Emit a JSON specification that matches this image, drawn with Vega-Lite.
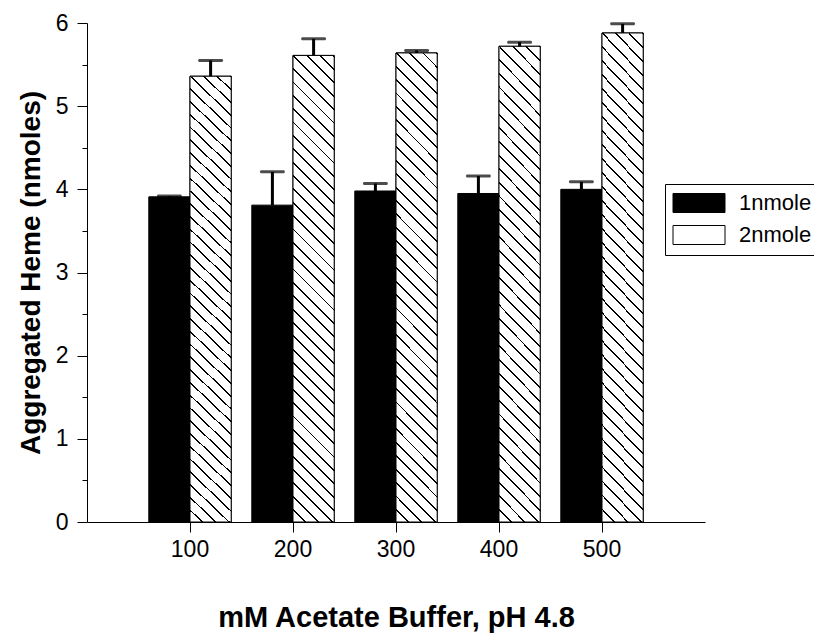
{
  "$schema": "https://vega.github.io/schema/vega-lite/v6.json",
  "width": 618,
  "height": 499,
  "autosize": {"type": "none"},
  "padding": {"left": 87, "top": 23, "right": 109, "bottom": 115},
  "background": "white",
  "config": {
    "font": "Liberation Sans",
    "view": {"stroke": null},
    "axis": {
      "grid": false,
      "domainColor": "black",
      "domainWidth": 1,
      "tickColor": "black",
      "tickWidth": 1,
      "labelColor": "black",
      "titleColor": "black",
      "labelFont": "Liberation Sans",
      "titleFont": "Liberation Sans",
      "labelFontSize": 23,
      "titleFontSize": 28,
      "titleFontWeight": "bold"
    }
  },
  "data": {
    "values": [
      {"buffer": "100", "series": "1nmole", "value": 3.91, "hi": 3.92},
      {"buffer": "200", "series": "1nmole", "value": 3.81, "hi": 4.21},
      {"buffer": "300", "series": "1nmole", "value": 3.98, "hi": 4.07},
      {"buffer": "400", "series": "1nmole", "value": 3.95, "hi": 4.16},
      {"buffer": "500", "series": "1nmole", "value": 4.0, "hi": 4.09},
      {"buffer": "100", "series": "2nmole", "value": 5.36, "hi": 5.55},
      {"buffer": "200", "series": "2nmole", "value": 5.61, "hi": 5.81},
      {"buffer": "300", "series": "2nmole", "value": 5.64, "hi": 5.67},
      {"buffer": "400", "series": "2nmole", "value": 5.72, "hi": 5.77},
      {"buffer": "500", "series": "2nmole", "value": 5.88, "hi": 5.99}
    ]
  },
  "encoding": {
    "x": {
      "field": "buffer",
      "type": "ordinal",
      "sort": ["100", "200", "300", "400", "500"],
      "scale": {"paddingInner": 0.2, "paddingOuter": 0.6},
      "axis": {
        "title": "mM Acetate Buffer, pH 4.8",
        "titleFontSize": 29,
        "labelAngle": 0,
        "tickSize": 10,
        "labelPadding": 6,
        "titlePadding": 42
      }
    },
    "xOffset": {"field": "series", "type": "nominal", "sort": ["1nmole", "2nmole"]},
    "y": {
      "field": "value",
      "type": "quantitative",
      "scale": {"domain": [0, 6], "nice": false},
      "axis": {
        "title": "Aggregated Heme (nmoles)",
        "values": [0, 0.5, 1, 1.5, 2, 2.5, 3, 3.5, 4, 4.5, 5, 5.5, 6],
        "labelExpr": "datum.value % 1 === 0 ? format(datum.value, 'd') : ''",
        "tickSize": {"condition": {"test": "datum.value % 1 === 0", "value": 10}, "value": 5},
        "labelPadding": 9,
        "titlePadding": 10
      }
    }
  },
  "layer": [
    {
      "mark": {"type": "bar", "stroke": "black", "strokeWidth": 1},
      "encoding": {
        "fill": {
          "field": "series",
          "type": "nominal",
          "scale": {"domain": ["1nmole", "2nmole"], "range": ["black", "white"]},
          "legend": {
            "orient": "none",
            "legendX": 578,
            "legendY": 161,
            "title": null,
            "strokeColor": "black",
            "fillColor": "white",
            "padding": 8,
            "symbolType": "M-2.6,-0.95H2.6V0.95H-2.6Z",
            "symbolSize": 400,
            "symbolStrokeColor": "black",
            "symbolStrokeWidth": 1,
            "labelFont": "Liberation Sans",
            "labelFontSize": 22,
            "labelColor": "black",
            "labelOffset": 44,
            "rowPadding": 8,
            "encode": {
              "symbols": {
                "update": {
                  "x": {"value": 26},
                  "stroke": {"value": "black"},
                  "strokeWidth": {"value": 1},
                  "fill": {
                    "condition": {
                      "test": "datum.value === '2nmole'",
                      "value": {
                        "gradient": "linear",
                        "x1": 0, "y1": 1, "x2": 1.2046, "y2": 0.5599,
                        "stops": [
                          {"offset": 0.10, "color": "white"}, {"offset": 0.10, "color": "black"}, {"offset": 0.125, "color": "black"}, {"offset": 0.125, "color": "white"},
                          {"offset": 0.225, "color": "white"}, {"offset": 0.225, "color": "black"}, {"offset": 0.25, "color": "black"}, {"offset": 0.25, "color": "white"},
                          {"offset": 0.35, "color": "white"}, {"offset": 0.35, "color": "black"}, {"offset": 0.375, "color": "black"}, {"offset": 0.375, "color": "white"},
                          {"offset": 0.475, "color": "white"}, {"offset": 0.475, "color": "black"}, {"offset": 0.5, "color": "black"}, {"offset": 0.5, "color": "white"},
                          {"offset": 0.6, "color": "white"}, {"offset": 0.6, "color": "black"}, {"offset": 0.625, "color": "black"}, {"offset": 0.625, "color": "white"},
                          {"offset": 0.725, "color": "white"}, {"offset": 0.725, "color": "black"}, {"offset": 0.75, "color": "black"}, {"offset": 0.75, "color": "white"},
                          {"offset": 0.85, "color": "white"}, {"offset": 0.85, "color": "black"}, {"offset": 0.875, "color": "black"}, {"offset": 0.875, "color": "white"},
                          {"offset": 0.975, "color": "white"}, {"offset": 0.975, "color": "black"}, {"offset": 1.0, "color": "black"}
                        ]
                      }
                    },
                    "value": "black"
                  }
                }
              }
            }
          }
        }
      }
    },
    {
      "transform": [{"filter": "datum.series === '2nmole'"}],
      "mark": {
        "type": "bar",
        "stroke": "black",
        "strokeWidth": 1,
        "fill": {
          "gradient": "linear",
          "x1": 0, "y1": 1, "x2": 0.0954, "y2": -0.08,
          "stops": [
            {"offset": 0.0226, "color": "white"}, {"offset": 0.0226, "color": "black"}, {"offset": 0.0263, "color": "black"}, {"offset": 0.0263, "color": "white"},
            {"offset": 0.0490, "color": "white"}, {"offset": 0.0490, "color": "black"}, {"offset": 0.0526, "color": "black"}, {"offset": 0.0526, "color": "white"},
            {"offset": 0.0753, "color": "white"}, {"offset": 0.0753, "color": "black"}, {"offset": 0.0789, "color": "black"}, {"offset": 0.0789, "color": "white"},
            {"offset": 0.1016, "color": "white"}, {"offset": 0.1016, "color": "black"}, {"offset": 0.1053, "color": "black"}, {"offset": 0.1053, "color": "white"},
            {"offset": 0.1279, "color": "white"}, {"offset": 0.1279, "color": "black"}, {"offset": 0.1316, "color": "black"}, {"offset": 0.1316, "color": "white"},
            {"offset": 0.1542, "color": "white"}, {"offset": 0.1542, "color": "black"}, {"offset": 0.1579, "color": "black"}, {"offset": 0.1579, "color": "white"},
            {"offset": 0.1805, "color": "white"}, {"offset": 0.1805, "color": "black"}, {"offset": 0.1842, "color": "black"}, {"offset": 0.1842, "color": "white"},
            {"offset": 0.2068, "color": "white"}, {"offset": 0.2068, "color": "black"}, {"offset": 0.2105, "color": "black"}, {"offset": 0.2105, "color": "white"},
            {"offset": 0.2332, "color": "white"}, {"offset": 0.2332, "color": "black"}, {"offset": 0.2368, "color": "black"}, {"offset": 0.2368, "color": "white"},
            {"offset": 0.2595, "color": "white"}, {"offset": 0.2595, "color": "black"}, {"offset": 0.2632, "color": "black"}, {"offset": 0.2632, "color": "white"},
            {"offset": 0.2858, "color": "white"}, {"offset": 0.2858, "color": "black"}, {"offset": 0.2895, "color": "black"}, {"offset": 0.2895, "color": "white"},
            {"offset": 0.3121, "color": "white"}, {"offset": 0.3121, "color": "black"}, {"offset": 0.3158, "color": "black"}, {"offset": 0.3158, "color": "white"},
            {"offset": 0.3384, "color": "white"}, {"offset": 0.3384, "color": "black"}, {"offset": 0.3421, "color": "black"}, {"offset": 0.3421, "color": "white"},
            {"offset": 0.3647, "color": "white"}, {"offset": 0.3647, "color": "black"}, {"offset": 0.3684, "color": "black"}, {"offset": 0.3684, "color": "white"},
            {"offset": 0.3911, "color": "white"}, {"offset": 0.3911, "color": "black"}, {"offset": 0.3947, "color": "black"}, {"offset": 0.3947, "color": "white"},
            {"offset": 0.4174, "color": "white"}, {"offset": 0.4174, "color": "black"}, {"offset": 0.4211, "color": "black"}, {"offset": 0.4211, "color": "white"},
            {"offset": 0.4437, "color": "white"}, {"offset": 0.4437, "color": "black"}, {"offset": 0.4474, "color": "black"}, {"offset": 0.4474, "color": "white"},
            {"offset": 0.4700, "color": "white"}, {"offset": 0.4700, "color": "black"}, {"offset": 0.4737, "color": "black"}, {"offset": 0.4737, "color": "white"},
            {"offset": 0.4963, "color": "white"}, {"offset": 0.4963, "color": "black"}, {"offset": 0.5000, "color": "black"}, {"offset": 0.5000, "color": "white"},
            {"offset": 0.5226, "color": "white"}, {"offset": 0.5226, "color": "black"}, {"offset": 0.5263, "color": "black"}, {"offset": 0.5263, "color": "white"},
            {"offset": 0.5489, "color": "white"}, {"offset": 0.5489, "color": "black"}, {"offset": 0.5526, "color": "black"}, {"offset": 0.5526, "color": "white"},
            {"offset": 0.5753, "color": "white"}, {"offset": 0.5753, "color": "black"}, {"offset": 0.5789, "color": "black"}, {"offset": 0.5789, "color": "white"},
            {"offset": 0.6016, "color": "white"}, {"offset": 0.6016, "color": "black"}, {"offset": 0.6053, "color": "black"}, {"offset": 0.6053, "color": "white"},
            {"offset": 0.6279, "color": "white"}, {"offset": 0.6279, "color": "black"}, {"offset": 0.6316, "color": "black"}, {"offset": 0.6316, "color": "white"},
            {"offset": 0.6542, "color": "white"}, {"offset": 0.6542, "color": "black"}, {"offset": 0.6579, "color": "black"}, {"offset": 0.6579, "color": "white"},
            {"offset": 0.6805, "color": "white"}, {"offset": 0.6805, "color": "black"}, {"offset": 0.6842, "color": "black"}, {"offset": 0.6842, "color": "white"},
            {"offset": 0.7068, "color": "white"}, {"offset": 0.7068, "color": "black"}, {"offset": 0.7105, "color": "black"}, {"offset": 0.7105, "color": "white"},
            {"offset": 0.7332, "color": "white"}, {"offset": 0.7332, "color": "black"}, {"offset": 0.7368, "color": "black"}, {"offset": 0.7368, "color": "white"},
            {"offset": 0.7595, "color": "white"}, {"offset": 0.7595, "color": "black"}, {"offset": 0.7632, "color": "black"}, {"offset": 0.7632, "color": "white"},
            {"offset": 0.7858, "color": "white"}, {"offset": 0.7858, "color": "black"}, {"offset": 0.7895, "color": "black"}, {"offset": 0.7895, "color": "white"},
            {"offset": 0.8121, "color": "white"}, {"offset": 0.8121, "color": "black"}, {"offset": 0.8158, "color": "black"}, {"offset": 0.8158, "color": "white"},
            {"offset": 0.8384, "color": "white"}, {"offset": 0.8384, "color": "black"}, {"offset": 0.8421, "color": "black"}, {"offset": 0.8421, "color": "white"},
            {"offset": 0.8647, "color": "white"}, {"offset": 0.8647, "color": "black"}, {"offset": 0.8684, "color": "black"}, {"offset": 0.8684, "color": "white"},
            {"offset": 0.8911, "color": "white"}, {"offset": 0.8911, "color": "black"}, {"offset": 0.8947, "color": "black"}, {"offset": 0.8947, "color": "white"},
            {"offset": 0.9174, "color": "white"}, {"offset": 0.9174, "color": "black"}, {"offset": 0.9211, "color": "black"}, {"offset": 0.9211, "color": "white"},
            {"offset": 0.9437, "color": "white"}, {"offset": 0.9437, "color": "black"}, {"offset": 0.9474, "color": "black"}, {"offset": 0.9474, "color": "white"},
            {"offset": 0.9700, "color": "white"}, {"offset": 0.9700, "color": "black"}, {"offset": 0.9737, "color": "black"}, {"offset": 0.9737, "color": "white"},
            {"offset": 0.9963, "color": "white"}, {"offset": 0.9963, "color": "black"}, {"offset": 1.0, "color": "black"}
          ]
        }
      }
    },
    {
      "mark": {"type": "rule", "color": "black", "strokeWidth": 3},
      "encoding": {
        "y": {"field": "value", "type": "quantitative"},
        "y2": {"field": "hi"}
      }
    },
    {
      "mark": {"type": "tick", "orient": "horizontal", "color": "black", "size": 25, "thickness": 3, "cornerRadius": 1.5},
      "encoding": {
        "y": {"field": "hi", "type": "quantitative"}
      }
    }
  ]
}
